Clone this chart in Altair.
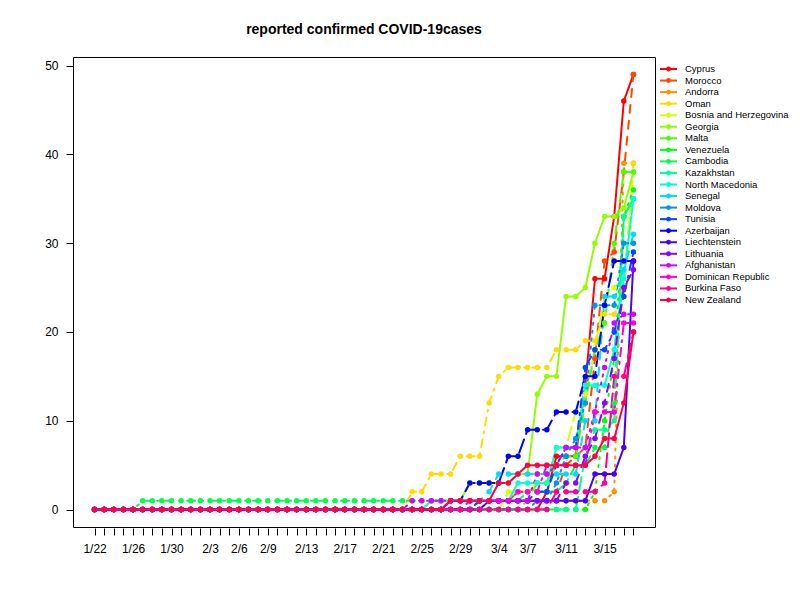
import altair as alt
import pandas as pd
import colorsys

countries = ["Cyprus", "Morocco", "Andorra", "Oman", "Bosnia and Herzegovina",
             "Georgia", "Malta", "Venezuela", "Cambodia", "Kazakhstan",
             "North Macedonia", "Senegal", "Moldova", "Tunisia", "Azerbaijan",
             "Liechtenstein", "Lithuania", "Afghanistan", "Dominican Republic",
             "Burkina Faso", "New Zealand"]

# daily reported confirmed cases, 1/22 .. 3/18 (57 days)
cyprus = [0] * 47 + [2, 6, 6, 6, 14, 26, 26, 33, 46, 49]
morocco = [0] * 40 + [1, 1, 1, 1, 2, 2, 2, 2, 2, 5, 6, 7, 17, 28, 29, 38, 49]
andorra = [0] * 40 + [1] * 14 + [2, 39, 39]
oman = [0] * 33 + [2, 2, 4, 4, 4, 6, 6, 6, 12, 15, 16, 16, 16, 16, 16, 18, 18, 18, 19, 19, 22, 22, 24, 39]
bosnia = [0] * 43 + [2, 2, 2, 3, 3, 7, 7, 11, 13, 18, 24, 25, 26, 38]
georgia = [0] * 35 + [1, 1, 1, 1, 3, 3, 3, 3, 3, 4, 4, 13, 15, 15, 24, 24, 25, 30, 33, 33, 34, 38]
malta = [0] * 45 + [1, 3, 3, 5, 6, 6, 12, 18, 21, 30, 38, 38]
venezuela = [0] * 52 + [2, 10, 17, 33, 36]
cambodia = [0] * 5 + [1] * 40 + [2, 2, 2, 2, 3, 5, 5, 7, 7, 12, 33, 35]
kazakhstan = [0] * 51 + [6, 9, 9, 10, 33, 35]
north_macedonia = [0] * 35 + [1] * 9 + [3, 3, 3, 3, 7, 7, 7, 14, 14, 14, 18, 26, 35]
senegal = [0] * 40 + [1, 2, 4, 4, 4, 4, 4, 4, 4, 4, 4, 10, 10, 24, 24, 27, 31]
moldova = [0] * 46 + [1, 1, 3, 6, 8, 12, 23, 23, 23, 30, 30]
tunisia = [0] * 40 + [1] * 6 + [2, 2, 5, 7, 7, 16, 18, 18, 20, 24, 29]
azerbaijan = [0] * 37 + [1, 1, 3, 3, 3, 3, 6, 6, 9, 9, 9, 11, 11, 11, 15, 15, 23, 28, 28, 28]
liechtenstein = [0] * 41 + [1] * 11 + [4, 4, 4, 7, 28]
lithuania = [0] * 37 + [1] * 12 + [3, 3, 6, 8, 12, 17, 25, 27]
afghanistan = [0] * 33 + [1] * 13 + [4, 4, 5, 7, 7, 7, 11, 16, 21, 22, 22]
dominican = [0] * 39 + [1] * 5 + [2, 2, 2, 5, 5, 5, 5, 5, 11, 11, 11, 21, 21]
burkina = [0] * 48 + [2, 2, 2, 2, 2, 3, 15, 15, 20]
new_zealand = [0] * 37 + [1] * 5 + [3, 3, 4, 5, 5, 5, 5, 5, 5, 5, 6, 8, 8, 12, 20]

series = [cyprus, morocco, andorra, oman, bosnia, georgia, malta, venezuela,
          cambodia, kazakhstan, north_macedonia, senegal, moldova, tunisia,
          azerbaijan, liechtenstein, lithuania, afghanistan, dominican,
          burkina, new_zealand]

dates = [f"{d.month}/{d.day}" for d in pd.date_range("2020-01-22", "2020-03-18")]
shown_dates = ["1/22", "1/26", "1/30", "2/3", "2/6", "2/9", "2/13", "2/17",
               "2/21", "2/25", "2/29", "3/4", "3/7", "3/11", "3/15"]
shown_idx = [dates.index(s) for s in shown_dates]

# R rainbow(21)
colors = []
for k in range(len(countries)):
    r, g, b = colorsys.hsv_to_rgb(k / len(countries), 1, 1)
    colors.append("#%02x%02x%02x" % (round(r * 255), round(g * 255), round(b * 255)))

rows = []
for i, (c, vals) in enumerate(zip(countries, series)):
    for d, v in enumerate(vals):
        rows.append({"day": d, "cases": v, "country": c, "lty": str(i % 5 + 1), "k": i})
df = pd.DataFrame(rows)
legend_df = pd.DataFrame({"country": countries, "rank": list(range(len(countries)))})

n = len(dates)
xscale = alt.Scale(domain=[-0.04 * (n - 1), (n - 1) * 1.04], nice=False, zero=False)
yscale = alt.Scale(domain=[-0.04 * 49, 49 * 1.04], nice=False, zero=False)

label_expr = (f"indexof({shown_idx}, datum.value) >= 0 ? "
              f"{shown_dates}[indexof({shown_idx}, datum.value)] : ''")

x = alt.X("day:Q", scale=xscale,
          axis=alt.Axis(values=list(range(n)), labelExpr=label_expr, title=None,
                        grid=False, domain=False, tickSize=7, offset=1,
                        labelPadding=8, labelOverlap=False, labelFlush=False,
                        labelBound=False))
y = alt.Y("cases:Q", scale=yscale,
          axis=alt.Axis(values=[0, 10, 20, 30, 40, 50], title=None, grid=False,
                        domain=False, tickSize=7, offset=0, labelPadding=8))
y_noaxis = alt.Y("cases:Q", scale=yscale, axis=None)
color = alt.Color("country:N", scale=alt.Scale(domain=countries, range=colors),
                  legend=None)

lines = alt.Chart(df).mark_line(strokeWidth=2, strokeCap="round").encode(
    x=x, y=y, color=color,
    strokeDash=alt.StrokeDash("lty:N", scale=alt.Scale(
        domain=["1", "2", "3", "4", "5"],
        range=[[1, 0], [8, 8], [2, 6], [2, 6, 8, 6], [14, 6]]), legend=None),
    detail="country:N", order="day:Q")

points = alt.Chart(df).mark_circle(size=30, opacity=1).encode(
    x=x, y=y_noaxis, color=color, order="k:Q")

# legend drawn beside the plot (solid line + dot + name per country)
ly = alt.Y("rank:Q", scale=alt.Scale(domain=[0, len(countries) - 1], range=[12, 243]),
           axis=None)
leg_line = alt.Chart(legend_df).mark_rule(strokeWidth=2).encode(
    x=alt.value(587), x2=alt.value(604), y=ly, color=color)
leg_dot = alt.Chart(legend_df).mark_circle(size=24, opacity=1).encode(
    x=alt.value(595.5), y=ly, color=color)
leg_text = alt.Chart(legend_df).mark_text(
    align="left", baseline="middle", fontSize=9.5, font="Liberation Sans",
    color="#000").encode(x=alt.value(612), y=ly, text="country:N")

chart = alt.layer(lines, points, leg_line, leg_dot, leg_text).resolve_scale(
    y="independent"
).properties(
    width=582, height=470,
    title=alt.TitleParams("reported confirmed COVID-19cases", fontSize=14,
                          fontWeight="bold", font="Liberation Sans", anchor="middle",
                          offset=20, color="#000"),
    autosize=alt.AutoSizeParams(type="none"),
    padding={"left": 65, "top": 49, "right": 137, "bottom": 65},
).configure_view(stroke="#000", strokeWidth=1).configure_axis(
    labelFont="Liberation Sans", labelFontSize=12, labelColor="#000",
    tickColor="#000"
)

chart.save("out.html", embed_options={"renderer": "svg", "actions": False})
